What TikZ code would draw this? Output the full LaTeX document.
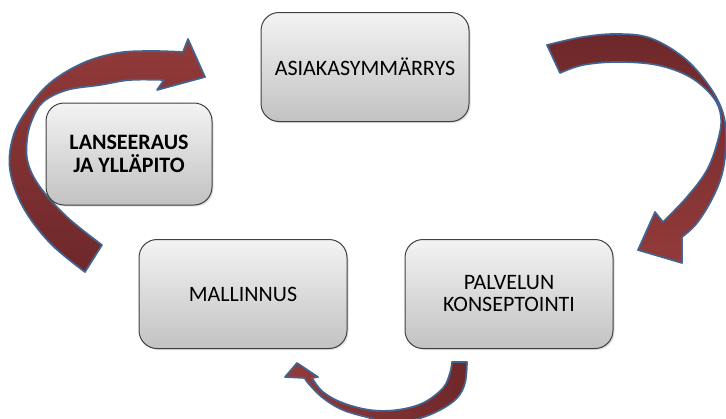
\documentclass[tikz,border=0pt]{standalone}
\usepackage{fontspec}
\setmainfont{Carlito}
\usepackage{tikz}
\usetikzlibrary{shadows}
\definecolor{boxtop}{RGB}{243,243,243}
\definecolor{boxbottom}{RGB}{194,194,194}
\definecolor{boxline}{RGB}{64,64,64}
\definecolor{redlight}{RGB}{146,58,58}
\definecolor{reddark}{RGB}{110,40,42}
\definecolor{arrowline}{RGB}{66,100,145}

\begin{document}
\begin{tikzpicture}[
        x=1pt, y=-1pt,
        box/.style={rectangle, draw=boxline, line width=1pt, rounded corners=18pt,
            top color=boxtop, bottom color=boxbottom, minimum width=208pt, minimum height=109pt,
            align=center, font=\fontsize{22}{22}\selectfont,
            drop shadow={opacity=0.25, shadow xshift=1.5pt, shadow yshift=-1.5pt}},
        bluearrow/.style={draw=arrowline, line width=1.7pt, line join=round}
    ]
    \useasboundingbox (0,0) rectangle (726,418);

    % kaarinuolet
    \filldraw[bluearrow, top color=redlight, bottom color=reddark]
        plot[smooth, tension=0.6] coordinates {(85,272) (50,243) (23,207) (10,170) (13,137) (27,110) (50,83) (83,63) (117,53) (150,51) (183,52)}
        -- (188,39) -- (205,77) -- (157,90) -- (164,80)
        -- plot[smooth, tension=0.6] coordinates {(164,80) (130,80) (100,85) (67,90) (43,102) (32,120) (27,140) (28,163) (40,187) (67,217) (102,245)}
        -- cycle;
    \filldraw[bluearrow, top color=reddark, bottom color=redlight]
        plot[smooth, tension=0.6] coordinates {(547,45) (583,37) (617,34) (650,38) (683,57) (707,83) (722,110) (726,137) (723,170) (713,197) (697,223) (682,237)}
        -- (682,263) -- (638,250) -- (655,212) -- (663,222)
        -- plot[smooth, tension=0.6] coordinates {(663,222) (687,197) (707,170) (718,140) (721,117) (713,97) (690,77) (657,65) (617,62) (583,65) (560,73)}
        -- cycle;
    \begin{scope}
        \clip (0,0) rectangle (726,418);
        \filldraw[bluearrow, left color=redlight, right color=reddark]
            (452,362) -- (467,362)
            -- plot[smooth, tension=0.6] coordinates {(467,362) (465,383) (457,398) (440,410) (417,419) (390,423) (370,418) (343,410) (323,398) (308,383) (305,378)}
            -- (285,377) -- (297,363) -- (318,377) -- (312,378)
            -- plot[smooth, tension=0.6] coordinates {(312,378) (323,392) (343,403) (370,410) (397,410) (423,403) (443,388) (450,373) (452,362)}
            -- cycle;
    \end{scope}

    % laatikot
    \node[box] (asiakas) at (365,67) {ASIAKASYMMÄRRYS};
    \node[box, minimum width=166pt, minimum height=102pt, font=\fontsize{22}{23.5}\selectfont\bfseries] (lanseeraus) at (129,154) {LANSEERAUS\\JA YLLÄPITO};
    \node[box] (mallinnus) at (243,294) {MALLINNUS};
    \node[box] (palvelun) at (509,294) {PALVELUN\\KONSEPTOINTI};
\end{tikzpicture}
\end{document}
